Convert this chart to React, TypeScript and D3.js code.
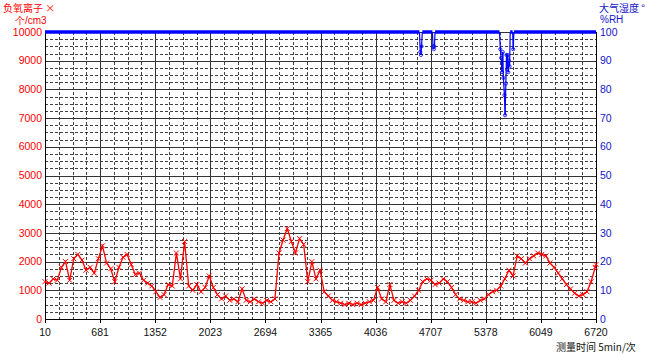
import React from 'react';
import * as d3 from 'd3';

// negative ion concentration, sampled every 50 intervals from 10
const ionValues = [
  1300, 1250, 1400, 1350, 1800, 2000, 1350, 2100, 2250, 2050,
  1700, 1800, 1600, 2100, 2550, 1950, 1750, 1300, 1800, 2150,
  2250, 1900, 1550, 1600, 1350, 1250, 1150, 950, 750, 850,
  1200, 1150, 2300, 1400, 2700, 1150, 1000, 1200, 950, 1100,
  1500, 1100, 850, 700, 800, 650, 700, 600, 1050, 650,
  600, 700, 600, 550, 650, 600, 700, 2300, 2750, 3150,
  2700, 2300, 2800, 2600, 1300, 2000, 1400, 1700, 950, 800,
  650, 600, 550, 500, 550, 500, 550, 500, 550, 600,
  650, 1100, 700, 600, 1200, 650, 550, 600, 550, 650,
  800, 1000, 1300, 1400, 1350, 1200, 1250, 1400, 1300, 1100,
  850, 700, 650, 600, 600, 550, 650, 700, 850, 950,
  1000, 1150, 1400, 1700, 1500, 2200, 2100, 1950, 2100, 2200,
  2300, 2250, 2200, 1950, 1800, 1600, 1400, 1200, 1050, 900,
  800, 850, 950, 1300, 1800, 1900,
];
const ionStart = 10;
const ionStep = 50;

// humidity [time, %RH]
const humidity: [number, number][] = [
  [10, 100], [4570, 100], [4580, 93], [4588, 92], [4596, 95], [4605, 100],
  [4728, 100], [4735, 95], [4745, 94], [4752, 95], [4760, 100],
  [5545, 100], [5555, 94], [5565, 91], [5575, 86], [5585, 93], [5592, 84],
  [5605, 78], [5613, 71], [5622, 82], [5630, 92], [5638, 87], [5645, 92],
  [5652, 86], [5660, 90], [5668, 88], [5675, 100], [5705, 100], [5712, 94],
  [5720, 100], [6720, 100],
];

const xTicks = [10, 681, 1352, 2023, 2694, 3365, 4036, 4707, 5378, 6049, 6720];
const leftTicks = [0, 1000, 2000, 3000, 4000, 5000, 6000, 7000, 8000, 9000, 10000];
const rightTicks = [0, 10, 20, 30, 40, 50, 60, 70, 80, 90, 100];

const RED = '#ff0000';
const BLUE = '#0000ff';
const NUM_FONT = '"Liberation Sans", Arial, sans-serif';
const CJK_FONT = '"Noto Sans CJK SC", "Liberation Sans", sans-serif';

export default function App() {
  const left = 45, right = 596, top = 32, bottom = 319;

  const x = d3.scaleLinear().domain([10, 6720]).range([left, right]);
  const yL = d3.scaleLinear().domain([0, 10000]).range([bottom, top]);
  const yR = d3.scaleLinear().domain([0, 100]).range([bottom, top]);

  const ion = ionValues.map((v, i) => [Math.min(ionStart + i * ionStep, 6720), v] as [number, number]);
  const ionLine = d3.line<[number, number]>().x(d => x(d[0])).y(d => yL(d[1]))(ion) || '';

  // minor gridlines: quarters between major ticks
  const xMinor: number[] = [];
  for (let i = 0; i < xTicks.length - 1; i++) {
    const step = (xTicks[i + 1] - xTicks[i]) / 4;
    for (let k = 1; k < 4; k++) xMinor.push(xTicks[i] + step * k);
  }
  const yMinor: number[] = [];
  for (let i = 0; i < leftTicks.length - 1; i++) {
    for (let k = 1; k < 4; k++) yMinor.push(leftTicks[i] + 250 * k);
  }

  const humSegs = d3.pairs(humidity);

  return (
    <svg width={650} height={354} style={{ position: 'absolute', left: 0, top: 0, background: '#fff' }}>
      {/* minor dashed grid */}
      <g stroke="#111" strokeWidth={0.8} strokeDasharray="3,2">
        {xMinor.map(t => (
          <line key={'xm' + t} x1={Math.round(x(t)) + 0.5} x2={Math.round(x(t)) + 0.5} y1={top} y2={bottom} />
        ))}
        {yMinor.map(v => (
          <line key={'ym' + v} x1={left} x2={right} y1={Math.round(yL(v)) + 0.5} y2={Math.round(yL(v)) + 0.5} />
        ))}
      </g>
      {/* major solid grid */}
      <g stroke="#333" strokeWidth={1}>
        {xTicks.map(t => (
          <line key={'xM' + t} x1={Math.round(x(t)) + 0.5} x2={Math.round(x(t)) + 0.5} y1={top} y2={bottom} />
        ))}
        {leftTicks.map(v => (
          <line key={'yM' + v} x1={left} x2={right} y1={Math.round(yL(v)) + 0.5} y2={Math.round(yL(v)) + 0.5} />
        ))}
      </g>
      {/* axes frame */}
      <g stroke="#000" strokeWidth={1}>
        <line x1={left + 0.5} x2={left + 0.5} y1={top} y2={bottom + 0.5} />
        <line x1={right + 0.5} x2={right + 0.5} y1={top} y2={bottom + 0.5} />
        <line x1={left} x2={right + 1} y1={bottom + 0.5} y2={bottom + 0.5} />
        {xTicks.map(t => (
          <line key={'tk' + t} x1={Math.round(x(t)) + 0.5} x2={Math.round(x(t)) + 0.5} y1={bottom} y2={bottom + 4} />
        ))}
      </g>

      {/* negative ion series */}
      <path d={ionLine} fill="none" stroke={RED} strokeWidth={1.3} />
      <g stroke={RED} strokeWidth={1}>
        {ion.map((d, i) => {
          const cx = x(d[0]), cy = yL(d[1]);
          return (
            <path key={'m' + i} d={`M${cx - 2.5},${cy - 2.5}L${cx + 2.5},${cy + 2.5}M${cx - 2.5},${cy + 2.5}L${cx + 2.5},${cy - 2.5}`} />
          );
        })}
      </g>

      {/* humidity series */}
      <g stroke={BLUE} fill="none">
        {humSegs.map(([a, b], i) => (
          <line key={'h' + i} x1={x(a[0])} y1={yR(a[1])} x2={x(b[0])} y2={yR(b[1])}
            strokeWidth={a[1] === 100 && b[1] === 100 ? 3.5 : 1.2} />
        ))}
        {humidity.filter(d => d[1] < 100).map((d, i) => (
          <circle key={'hc' + i} cx={x(d[0])} cy={yR(d[1])} r={1.6} strokeWidth={0.8} />
        ))}
      </g>

      {/* left axis labels */}
      <g fontFamily={NUM_FONT} fontSize={10.5} fill={RED} textAnchor="end">
        {leftTicks.map(v => (
          <text key={'l' + v} x={42} y={yL(v)} dy="0.35em">{v}</text>
        ))}
      </g>
      {/* right axis labels */}
      <g fontFamily={NUM_FONT} fontSize={10.5} fill="#1515c8" textAnchor="start">
        {rightTicks.map(v => (
          <text key={'r' + v} x={600} y={yR(v)} dy="0.35em">{v}</text>
        ))}
      </g>
      {/* bottom axis labels */}
      <g fontFamily={NUM_FONT} fontSize={10.5} fill="#111" textAnchor="middle">
        {xTicks.map(t => (
          <text key={'b' + t} x={x(t)} y={332} dy="0.35em">{t}</text>
        ))}
      </g>

      {/* titles */}
      <text x={3} y={11.5} fontFamily={CJK_FONT} fontSize={10} fill={RED}>负氧离子 ×</text>
      <text x={15} y={24} fontFamily={NUM_FONT} fontSize={10} fill={RED}>个/cm3</text>
      <text x={599} y={11.5} fontFamily={CJK_FONT} fontSize={10} fill="#1515c8">大气湿度 °</text>
      <text x={600} y={23} fontFamily={NUM_FONT} fontSize={10} fill="#1515c8">%RH</text>
      <text x={556} y={351} fontFamily={CJK_FONT} fontSize={10} fill="#111">测量时间 5min/次</text>
    </svg>
  );
}
